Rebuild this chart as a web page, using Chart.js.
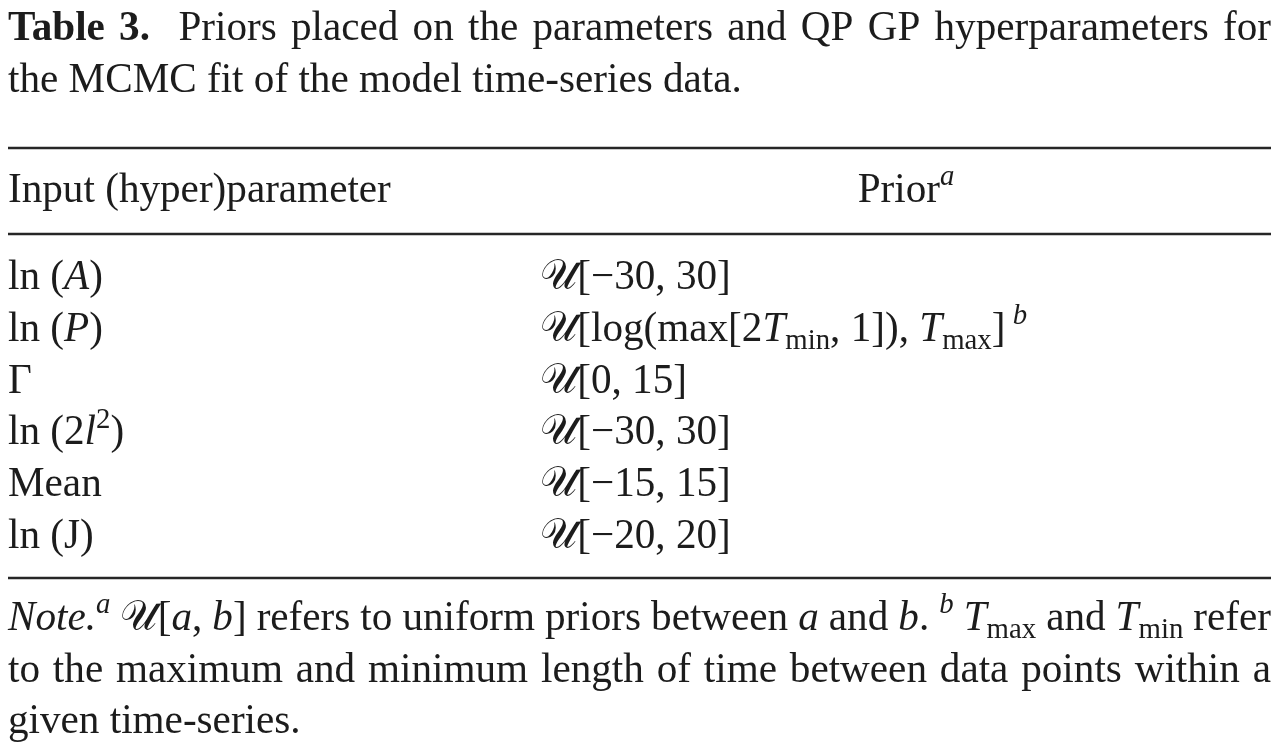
<!DOCTYPE html>
<html lang="en">
<head>
<meta charset="utf-8">
<script src="https://cdn.jsdelivr.net/npm/chart.js@4.4.1/dist/chart.umd.min.js"></script>
<style>
  html, body { margin: 0; padding: 0; background: #fff; }
  #wrap { width: 1287px; height: 750px; }
</style>
</head>
<body>
<div id="wrap"><canvas id="tableChart" width="1287" height="750"></canvas></div>
<script>
// table content
const titleLines = [
  "<b>Table 3.</b>  Priors placed on the parameters and QP GP hyperparameters for",
  "the MCMC fit of the model time-series data."
];
const headers = ["Input (hyper)parameter", "Prior<sup><i>a</i></sup>"];
const params = ["ln (<i>A</i>)", "ln (<i>P</i>)", "Γ", "ln (2<i>l</i><sup>2</sup>)", "Mean", "ln (J)"];
const priors = [
  "𝒰[−30, 30]",
  "𝒰[log(max[2<i>T</i><sub>min</sub>, 1]), <i>T</i><sub>max</sub>]<sup> <i>b</i></sup>",
  "𝒰[0, 15]",
  "𝒰[−30, 30]",
  "𝒰[−15, 15]",
  "𝒰[−20, 20]"
];
const noteLines = [
  "<i>Note.</i><sup><i>a</i></sup> 𝒰[<i>a</i>, <i>b</i>] refers to uniform priors between <i>a</i> and <i>b</i>. <sup><i>b</i></sup> <i>T</i><sub>max</sub> and <i>T</i><sub>min</sub> refer",
  "to the maximum and minimum length of time between data points within a",
  "given time-series."
];

// layout (page units = pixels of the reference)
const FONT = '"Liberation Serif", "DejaVu Serif", serif';
const SIZE = 42;
const HSCALE = 0.98; // the original face is a touch narrower than Liberation Serif
const LEFT = 8, RIGHT = 1271, COL2 = 540, PRIOR_CENTER = 906;
const titleY = [40, 92];
const headerY = 202;
const rowY0 = 289, rowStep = 51.8;
const noteY = [630, 682, 733];
const ruleY = [148, 234, 578];

function parseRich(str) {
  const runs = [];
  const st = { b: 0, i: 0, sub: 0, sup: 0 };
  const re = /<(\/?)(b|i|sub|sup)>/g;
  let last = 0, m;
  const push = (t) => { if (t) runs.push({ text: t, b: st.b > 0, i: st.i > 0, sub: st.sub > 0, sup: st.sup > 0 }); };
  while ((m = re.exec(str)) !== null) {
    push(str.slice(last, m.index));
    st[m[2]] += m[1] ? -1 : 1;
    last = re.lastIndex;
  }
  push(str.slice(last));
  // split into words / spaces
  const toks = [];
  runs.forEach(r => {
    r.text.split(/( )/).forEach(p => { if (p !== '') toks.push(Object.assign({}, r, { text: p, space: p === ' ' })); });
  });
  return toks;
}

function tokFont(t) {
  const sz = (t.sub || t.sup) ? SIZE * 0.7 : SIZE;
  return (t.i ? 'italic ' : '') + (t.b ? 'bold ' : '') + sz + 'px ' + FONT;
}

function measureToks(ctx, toks) {
  let w = 0;
  toks.forEach(t => { ctx.font = tokFont(t); t.w = ctx.measureText(t.text).width; w += t.w; });
  return w;
}

function drawRich(ctx, str, x, y, opts) {
  opts = opts || {};
  const toks = parseRich(str);
  const total = measureToks(ctx, toks);
  let extra = 0;
  if (opts.justifyTo) {
    const nSp = toks.filter(t => t.space).length;
    if (nSp) extra = ((opts.justifyTo - x) / HSCALE - total) / nSp;
  }
  if (opts.center) x = x - total * HSCALE / 2;
  ctx.save();
  ctx.translate(x, y);
  ctx.scale(HSCALE, 1);
  let cx = 0;
  toks.forEach(t => {
    if (t.space) { cx += t.w + extra; return; }
    ctx.font = tokFont(t);
    let dy = 0;
    if (t.sub) dy = SIZE * 0.2;
    if (t.sup) dy = -SIZE * 0.4;
    ctx.fillText(t.text, cx, dy);
    cx += t.w;
  });
  ctx.restore();
}

const tablePlugin = {
  id: 'tableText',
  afterDatasetsDraw(chart) {
    const ctx = chart.ctx;
    const xs = chart.scales.x, ys = chart.scales.y;
    const px = v => xs.getPixelForValue(v);
    const py = v => ys.getPixelForValue(v);
    ctx.save();
    ctx.fillStyle = '#1c1c1c';
    ctx.textBaseline = 'alphabetic';
    ctx.textAlign = 'left';
    drawRich(ctx, titleLines[0], px(LEFT), py(titleY[0]), { justifyTo: px(RIGHT) });
    drawRich(ctx, titleLines[1], px(LEFT), py(titleY[1]));
    drawRich(ctx, headers[0], px(LEFT), py(headerY));
    drawRich(ctx, headers[1], px(PRIOR_CENTER), py(headerY), { center: true });
    params.forEach((p, i) => {
      drawRich(ctx, p, px(LEFT), py(rowY0 + i * rowStep));
      drawRich(ctx, priors[i], px(COL2), py(rowY0 + i * rowStep));
    });
    drawRich(ctx, noteLines[0], px(LEFT), py(noteY[0]), { justifyTo: px(RIGHT) });
    drawRich(ctx, noteLines[1], px(LEFT), py(noteY[1]), { justifyTo: px(RIGHT) });
    drawRich(ctx, noteLines[2], px(LEFT), py(noteY[2]));
    ctx.restore();
  }
};

const ruleSets = ruleY.map(y => ({
  data: [{ x: LEFT, y: y }, { x: RIGHT, y: y }],
  borderColor: '#262626',
  borderWidth: 2.5,
  pointRadius: 0,
  showLine: true,
  fill: false
}));

new Chart(document.getElementById('tableChart'), {
  type: 'scatter',
  data: { datasets: ruleSets },
  options: {
    responsive: false,
    animation: false,
    layout: { padding: 0 },
    plugins: { legend: { display: false }, tooltip: { enabled: false } },
    scales: {
      x: { type: 'linear', min: 0, max: 1287, display: false },
      y: { type: 'linear', min: 0, max: 750, reverse: true, display: false }
    }
  },
  plugins: [tablePlugin]
});
</script>
</body>
</html>
